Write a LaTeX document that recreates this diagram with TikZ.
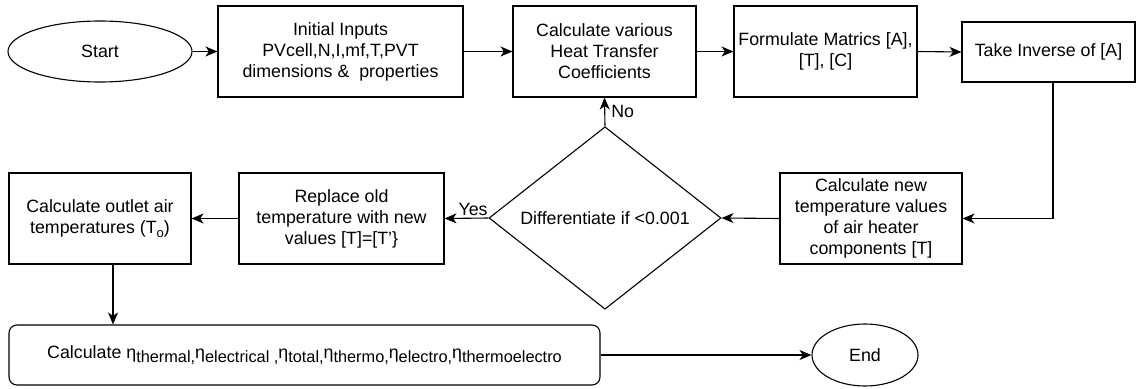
\documentclass[tikz,border=0pt]{standalone}
\usepackage{fontspec}
\setmainfont{Liberation Sans}
\usetikzlibrary{shapes.geometric,arrows.meta}
\newcommand\mysub[1]{\raisebox{-0.5ex}{\fontsize{16.3}{18}\selectfont #1}}
\newcommand\osub[1]{\raisebox{-0.45ex}{\fontsize{13}{14}\selectfont #1}}
\begin{document}
\begin{tikzpicture}[x=1pt,y=-1pt,
  every node/.style={font=\fontsize{17.8}{21}\selectfont, align=center, inner sep=1pt},
  box/.style={draw, line width=1.1pt, rectangle, minimum width=#1, minimum height=91pt},
  oval/.style={draw, line width=1.1pt, ellipse, inner sep=0pt},
  arr/.style={line width=1.1pt, -{Stealth[length=12pt,width=10pt,inset=3.5pt]}},
  lbl/.style={font=\fontsize{17.8}{21}\selectfont}]
\useasboundingbox (0,0) rectangle (1137,388);
% top row
\node[oval, minimum width=184pt, minimum height=61pt] (start) at (100,51.5) {Start};
\node[box=245pt] (init) at (340.5,51.5) {Initial Inputs\\PVcell,N,I,mf,T,PVT\\dimensions \&~ properties};
\node[box=183pt] (htc) at (604.5,51.5) {Calculate various\\Heat Transfer\\Coefficients};
\node[box=183pt] (form) at (825.5,51.5) {Formulate Matrics [A],\\{}[T], [C]};
\node[box=173pt, minimum height=60pt] (inv) at (1048.5,52) {Take Inverse of [A]};
% middle row
\node[box=182pt] (calcnew) at (871,218.5) {Calculate new\\temperature values\\of air heater\\components [T]};
\node[draw, line width=1.1pt, diamond, minimum width=232pt, minimum height=150pt, inner sep=0pt] (dia) at (605,218) {Differentiate if <0.001};
\node[box=205pt] (repl) at (341.5,218.5) {Replace old\\temperature with new\\values [T]=[T'\}};
\node[box=182pt] (outlet) at (100,218.5) {Calculate outlet air\\temperatures (T\osub{o})};
% bottom row
\node[draw, line width=1.1pt, rounded corners=8pt, minimum width=591pt, minimum height=60pt] (eff) at (304.5,355)
  {Calculate η\mysub{thermal,}η\mysub{electrical ,}η\mysub{total,}η\mysub{thermo,}η\mysub{electro,}η\mysub{thermoelectro}};
\node[oval, minimum width=106pt, minimum height=62pt] (end) at (865,355) {End};
% connectors
\draw[arr] (start.east) -- (init.west);
\draw[arr] (init.east) -- (htc.west);
\draw[arr] (htc.east) -- (form.west);
\draw[arr] (form.east) -- (inv.west);
\draw[arr] ([xshift=4.5pt]inv.south) |- (calcnew.east);
\draw[arr] (calcnew.west) -- (dia.east);
\draw[arr] (dia.north) -- node[lbl, pos=0.5, right=5pt] {No} (htc.south);
\draw[arr] (dia.west) -- node[lbl, pos=0.35, above=1pt] {Yes} (repl.east);
\draw[arr] (repl.west) -- (outlet.east);
\draw[arr] ([xshift=13pt]outlet.south) -- ([xshift=13pt]outlet.south |- eff.north);
\draw[arr] (eff.east) -- (end.west);
\end{tikzpicture}
\end{document}
